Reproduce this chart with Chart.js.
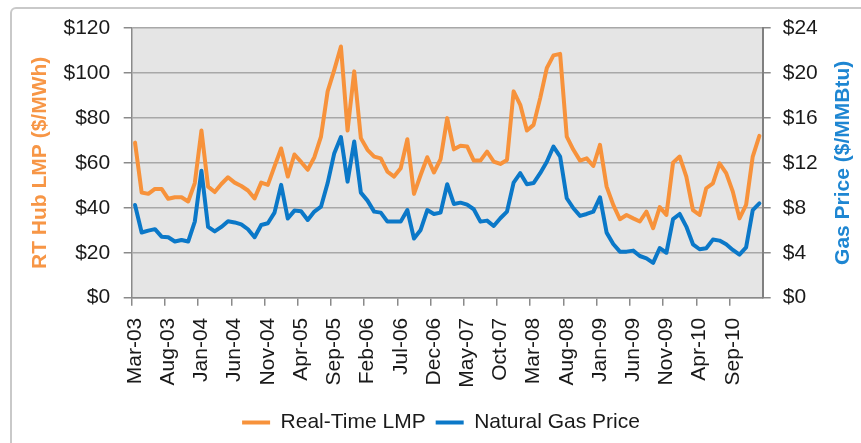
<!DOCTYPE html>
<html>
<head>
<meta charset="utf-8">
<script src="https://cdn.jsdelivr.net/npm/chart.js@4.4.1/dist/chart.umd.min.js"></script>
<style>
    html, body { margin: 0; padding: 0; background: #fff; overflow: hidden; }
    #wrap { position: relative; width: 861px; height: 443px; overflow: hidden; }
    #frame { position: absolute; left: 10px; top: 7px; width: 900px; height: 500px; border: 2px solid #c9c9c9; border-radius: 6px; }
    canvas { position: absolute; left: 0; top: 0; }
</style>
</head>
<body>
<div id="wrap">
    <div id="frame"></div>
    <canvas id="lmpGasChart" width="861" height="443"></canvas>
</div>
<script>
// month categories, Mar-03 .. Jan-11
const months = [
    'Mar-03', 'Apr-03', 'May-03', 'Jun-03', 'Jul-03', 'Aug-03', 'Sep-03', 'Oct-03', 'Nov-03', 'Dec-03',
    'Jan-04', 'Feb-04', 'Mar-04', 'Apr-04', 'May-04', 'Jun-04', 'Jul-04', 'Aug-04', 'Sep-04', 'Oct-04', 'Nov-04', 'Dec-04',
    'Jan-05', 'Feb-05', 'Mar-05', 'Apr-05', 'May-05', 'Jun-05', 'Jul-05', 'Aug-05', 'Sep-05', 'Oct-05', 'Nov-05', 'Dec-05',
    'Jan-06', 'Feb-06', 'Mar-06', 'Apr-06', 'May-06', 'Jun-06', 'Jul-06', 'Aug-06', 'Sep-06', 'Oct-06', 'Nov-06', 'Dec-06',
    'Jan-07', 'Feb-07', 'Mar-07', 'Apr-07', 'May-07', 'Jun-07', 'Jul-07', 'Aug-07', 'Sep-07', 'Oct-07', 'Nov-07', 'Dec-07',
    'Jan-08', 'Feb-08', 'Mar-08', 'Apr-08', 'May-08', 'Jun-08', 'Jul-08', 'Aug-08', 'Sep-08', 'Oct-08', 'Nov-08', 'Dec-08',
    'Jan-09', 'Feb-09', 'Mar-09', 'Apr-09', 'May-09', 'Jun-09', 'Jul-09', 'Aug-09', 'Sep-09', 'Oct-09', 'Nov-09', 'Dec-09',
    'Jan-10', 'Feb-10', 'Mar-10', 'Apr-10', 'May-10', 'Jun-10', 'Jul-10', 'Aug-10', 'Sep-10', 'Oct-10', 'Nov-10', 'Dec-10',
    'Jan-11'
];

// RT Hub LMP ($/MWh)
const lmpPrices = [
    69.0, 46.8, 46.2, 48.4, 48.4, 44.0, 44.7, 44.7, 42.8, 51.0,
    74.4, 49.4, 47.0, 50.6, 53.6, 51.2, 49.7, 47.7, 44.2, 51.2, 50.2, 58.4,
    66.4, 53.9, 63.7, 60.4, 56.9, 62.5, 71.7, 91.8, 101.4, 111.8, 74.4, 100.7,
    71.0, 65.8, 62.8, 62.0, 56.1, 53.9, 57.6, 70.5, 46.2, 54.6, 62.5, 55.7,
    61.6, 79.9, 66.0, 67.6, 67.3, 61.0, 61.0, 65.0, 60.6, 59.5, 61.3, 91.8,
    85.8, 74.4, 76.9, 88.8, 102.2, 107.8, 108.5, 71.7, 65.8, 61.0, 62.0, 58.6,
    68.0, 49.4, 41.3, 34.9, 36.8, 35.3, 33.9, 38.3, 30.9, 40.3, 36.8, 60.1,
    62.8, 53.9, 39.0, 36.8, 48.7, 50.9, 59.8, 55.4, 47.2, 35.3, 41.3, 62.8,
    72.0
];

// Natural gas price ($/MMBtu)
const gasPrices = [
    8.25, 5.80, 5.97, 6.10, 5.43, 5.38, 5.00, 5.14, 5.00, 6.77,
    11.30, 6.30, 5.90, 6.30, 6.80, 6.70, 6.53, 6.09, 5.38, 6.47, 6.62, 7.57,
    10.04, 7.04, 7.75, 7.70, 6.92, 7.66, 8.10, 10.20, 12.86, 14.30, 10.33, 13.90,
    9.35, 8.64, 7.66, 7.57, 6.77, 6.77, 6.77, 7.80, 5.26, 6.03, 7.80, 7.45,
    7.57, 10.10, 8.34, 8.46, 8.28, 7.87, 6.77, 6.86, 6.38, 7.07, 7.66, 10.24,
    11.08, 10.10, 10.20, 11.08, 12.10, 13.45, 12.56, 8.85, 7.96, 7.28, 7.45, 7.66,
    8.94, 5.79, 4.78, 4.10, 4.10, 4.19, 3.71, 3.50, 3.10, 4.42, 4.00, 7.00,
    7.45, 6.33, 4.75, 4.31, 4.40, 5.17, 5.08, 4.75, 4.25, 3.83, 4.47, 7.80,
    8.40
];

const orange = '#F7923B';
const blue = '#0B78C8';
const tickFont = { family: 'Liberation Sans, Arial, sans-serif', size: 21 };

// gray plot area
const plotBackground = {
    id: 'plotBackground',
    beforeDraw(chart) {
        const { ctx, chartArea } = chart;
        ctx.save();
        ctx.fillStyle = '#e5e5e5';
        ctx.fillRect(chartArea.left, chartArea.top, chartArea.width, chartArea.height);
        ctx.restore();
    }
};

// right axis title reads bottom to top, like the left one
const rightTitle = {
    id: 'rightTitle',
    afterDraw(chart) {
        const { ctx, chartArea } = chart;
        ctx.save();
        ctx.translate(843, (chartArea.top + chartArea.bottom) / 2);
        ctx.rotate(-Math.PI / 2);
        ctx.font = 'bold 21px Liberation Sans, Arial, sans-serif';
        ctx.fillStyle = '#1E86D2';
        ctx.textAlign = 'center';
        ctx.textBaseline = 'middle';
        ctx.fillText('Gas Price ($/MMBtu)', 0, 0);
        ctx.restore();
    }
};

const ctx = document.getElementById('lmpGasChart').getContext('2d');
new Chart(ctx, {
    type: 'line',
    data: {
        labels: months,
        datasets: [
            {
                label: 'Real-Time LMP',
                data: lmpPrices,
                borderColor: orange,
                backgroundColor: orange,
                borderWidth: 4,
                pointRadius: 0,
                tension: 0,
                borderJoinStyle: 'round',
                borderCapStyle: 'round',
                yAxisID: 'y'
            },
            {
                label: 'Natural Gas Price',
                data: gasPrices,
                borderColor: blue,
                backgroundColor: blue,
                borderWidth: 4,
                pointRadius: 0,
                tension: 0,
                borderJoinStyle: 'round',
                borderCapStyle: 'round',
                yAxisID: 'y1'
            }
        ]
    },
    options: {
        responsive: false,
        animation: false,
        layout: {
            padding: { left: 21, right: 0, top: 28, bottom: 0 }
        },
        plugins: {
            tooltip: { enabled: false },
            legend: {
                position: 'bottom',
                labels: {
                    font: tickFont,
                    color: '#1a1a1a',
                    boxWidth: 28,
                    boxHeight: 4,
                    padding: 10,
                    generateLabels: chart => Chart.defaults.plugins.legend.labels.generateLabels(chart)
                        .map(item => Object.assign(item, { lineWidth: 0, fillStyle: item.strokeStyle }))
                }
            }
        },
        scales: {
            x: {
                offset: true,
                afterFit: s => { s.height = 104.3; },
                grid: {
                    offset: true,
                    drawOnChartArea: false,
                    tickLength: 8,
                    lineWidth: 1.5,
                    tickColor: c => (c.index !== undefined && c.index % 5 === 0) ? '#8a8a8a' : 'rgba(0,0,0,0)'
                },
                border: { color: '#8a8a8a', width: 1.5 },
                ticks: {
                    autoSkip: false,
                    minRotation: 90,
                    maxRotation: 90,
                    padding: 12,
                    font: tickFont,
                    color: '#1a1a1a',
                    callback: (v, i) => i % 5 === 0 ? months[i] : ''
                }
            },
            y: {
                position: 'left',
                min: 0,
                max: 120,
                afterFit: s => { s.width = 110.7; },
                grid: { color: '#a8a8a8', lineWidth: 1.5, tickLength: 8, tickColor: '#8a8a8a' },
                border: { color: '#8a8a8a', width: 1.5 },
                ticks: {
                    stepSize: 20,
                    padding: 13.5,
                    font: tickFont,
                    color: '#1a1a1a',
                    callback: v => '$' + v
                },
                title: {
                    display: true,
                    text: 'RT Hub LMP ($/MWh)',
                    color: '#F79646',
                    font: { family: 'Liberation Sans, Arial, sans-serif', size: 21, weight: 'bold' },
                    padding: { top: 6.4, bottom: 0 }
                }
            },
            y1: {
                position: 'right',
                min: 0,
                max: 24,
                afterFit: s => { s.width = 98.3; },
                grid: { drawOnChartArea: false, tickLength: 8, tickColor: '#8a8a8a', lineWidth: 1.5 },
                border: { color: '#808080', width: 2 },
                ticks: {
                    stepSize: 4,
                    padding: 12,
                    font: tickFont,
                    color: '#1a1a1a',
                    callback: v => '$' + v
                }
            }
        }
    },
    plugins: [plotBackground, rightTitle]
});
</script>
</body>
</html>
